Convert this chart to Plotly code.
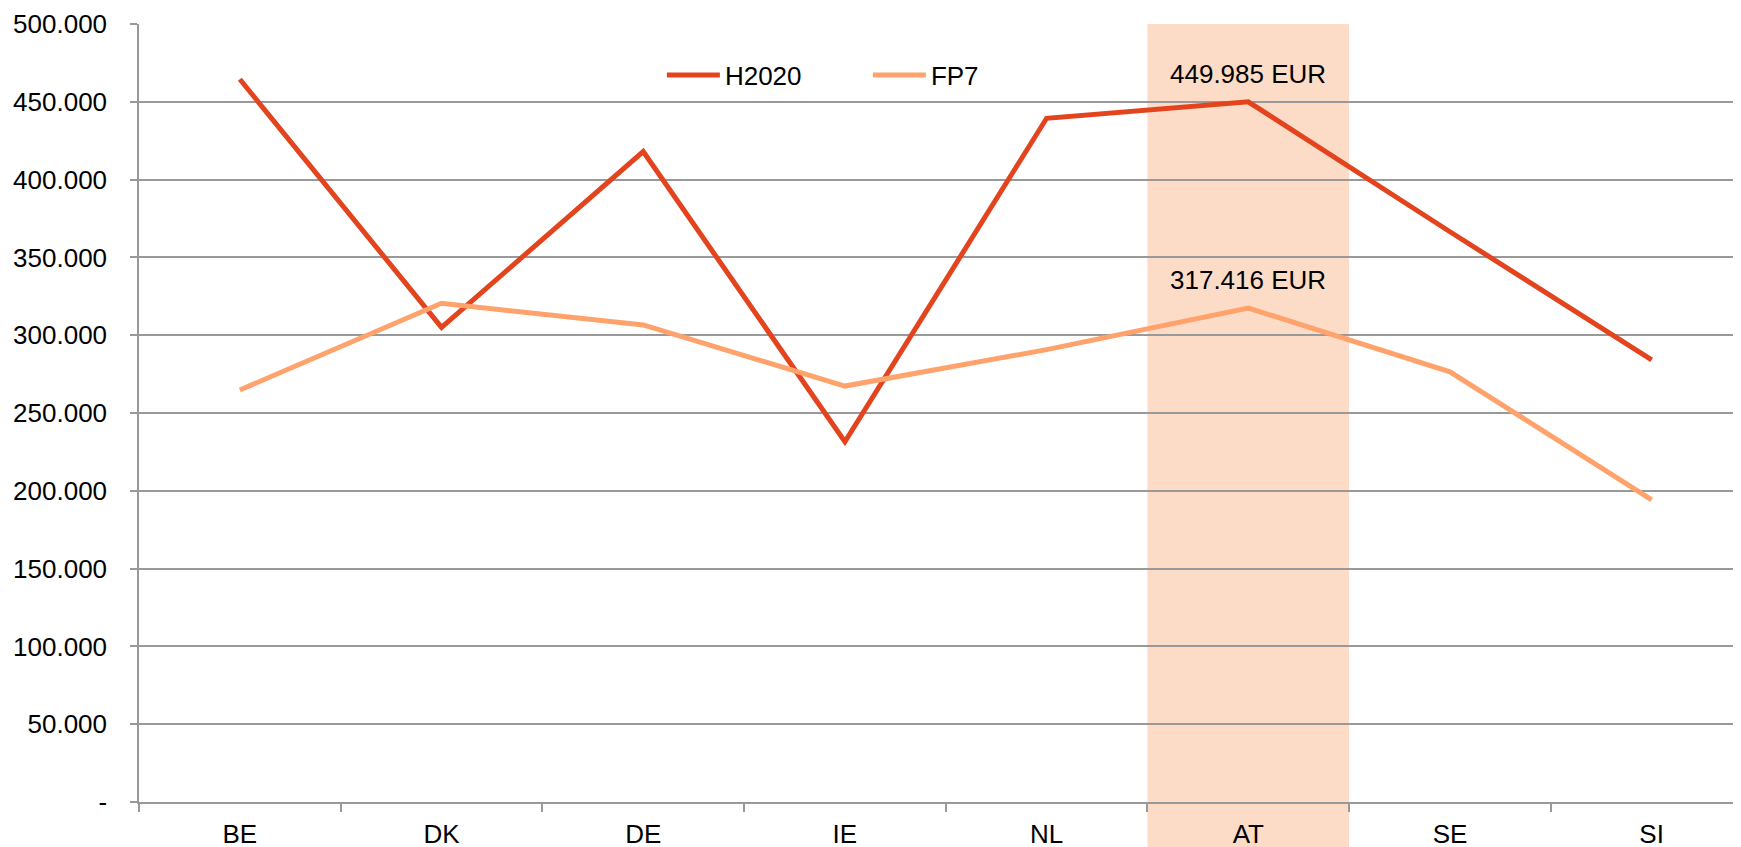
import plotly.graph_objects as go

countries = ["BE", "DK", "DE", "IE", "NL", "AT", "SE", "SI"]
h2020 = [464500, 305000, 418000, 231500, 439400, 449985, 366500, 284100]
fp7 = [264800, 320500, 306600, 267300, 290700, 317416, 276500, 194200]
ytick_vals = [0, 50000, 100000, 150000, 200000, 250000, 300000, 350000, 400000, 450000, 500000]
ytick_text = ["-", "50.000", "100.000", "150.000", "200.000", "250.000", "300.000",
              "350.000", "400.000", "450.000", "500.000"]
highlight = "AT"
labels = {"H2020": "449.985 EUR", "FP7": "317.416 EUR"}

C_H = "#E3441E"
C_F = "#FFA26B"
GRID = "#999999"
TXT = "#000000"
FONT = "Liberation Sans, Arial, sans-serif"
FS = 26

fig = go.Figure()
fig.add_trace(go.Scatter(x=countries, y=h2020, name="H2020", mode="lines",
                         line=dict(color=C_H, width=5)))
fig.add_trace(go.Scatter(x=countries, y=fp7, name="FP7", mode="lines",
                         line=dict(color=C_F, width=5)))

hi = countries.index(highlight)
fig.add_shape(type="rect", xref="x", yref="paper", x0=hi - 0.5, x1=hi + 0.5,
              y0=-0.07, y1=1, fillcolor="#FDDCC7", line=dict(width=0), layer="below")

fig.add_annotation(x=highlight, y=h2020[hi], text=labels["H2020"], showarrow=False,
                   yshift=28, font=dict(size=FS, color=TXT))
fig.add_annotation(x=highlight, y=fp7[hi], text=labels["FP7"], showarrow=False,
                   yshift=28, font=dict(size=FS, color=TXT))

fig.update_layout(
    width=1733, height=839,
    margin=dict(l=131, r=0, t=16, b=45, autoexpand=False),
    plot_bgcolor="white", paper_bgcolor="white",
    font=dict(family=FONT, size=FS, color=TXT),
    showlegend=True,
    legend=dict(orientation="h", x=0.3264, y=0.9344, xanchor="left", yanchor="middle",
                itemwidth=53, entrywidth=138, entrywidthmode="pixels",
                bgcolor="rgba(0,0,0,0)", font=dict(size=FS, color=TXT)),
    xaxis=dict(type="category", range=[-0.5, 7.443], showgrid=False,
               showline=True, linecolor=GRID, linewidth=1.5,
               ticks="outside", tickson="boundaries", ticklen=8, tickcolor=GRID,
               tickwidth=1.5, ticklabelstandoff=8,
               tickfont=dict(size=FS, color=TXT), automargin=False),
    yaxis=dict(range=[0, 500000], tickvals=ytick_vals, ticktext=ytick_text,
               showgrid=True, gridcolor=GRID, gridwidth=1.5,
               showline=True, linecolor=GRID, linewidth=1.5,
               ticks="outside", ticklen=7, tickcolor=GRID, tickwidth=1.5,
               ticklabelstandoff=18,
               tickfont=dict(size=FS, color=TXT), zeroline=False, automargin=False),
)

fig.write_html("out.html")
